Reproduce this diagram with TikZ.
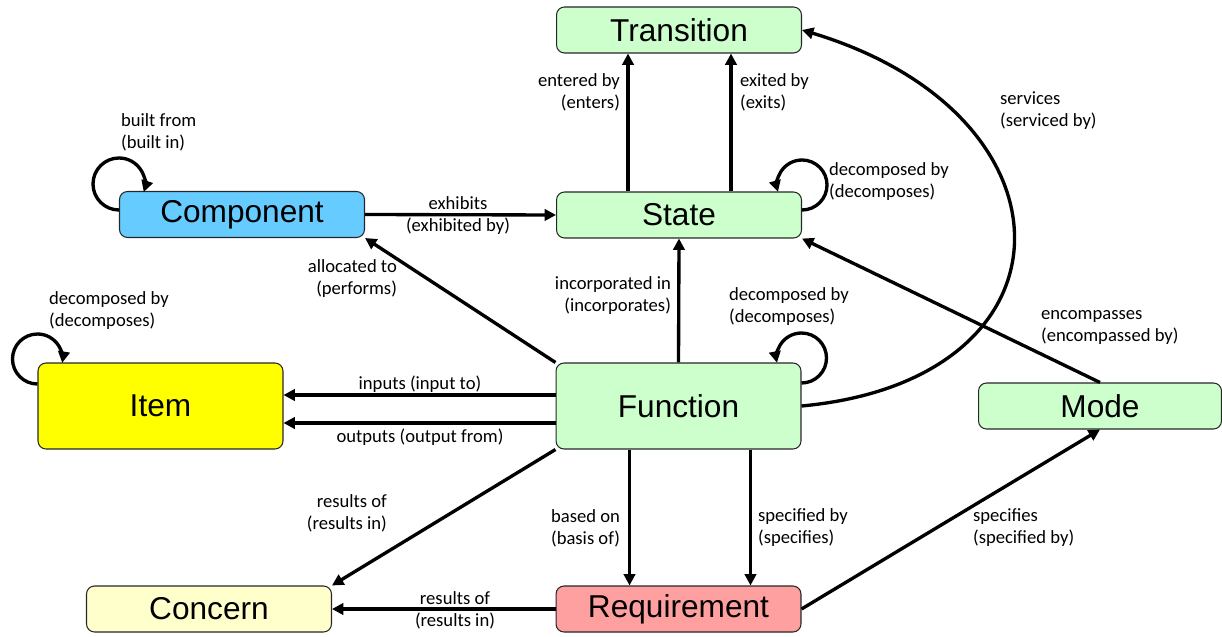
\documentclass[tikz,border=0pt]{standalone}
\usepackage{fontspec}
\setmainfont{Liberation Sans}
\newfontfamily\lblfont{Carlito}
\usetikzlibrary{arrows.meta}
\definecolor{boxgreen}{HTML}{CCFFCC}
\definecolor{boxblue}{HTML}{66CCFF}
\definecolor{boxyellow}{HTML}{FFFF00}
\definecolor{boxcream}{HTML}{FFFFCC}
\definecolor{boxred}{HTML}{FFA0A0}
\tikzset{
  box/.style={draw=black!85, line width=0.6pt, rounded corners=0.16cm, minimum width=4.9cm, minimum height=0.92cm, inner sep=0, font=\fontsize{18}{20}\selectfont},
  edge/.style={line width=1.9pt, -{Triangle[length=6.5pt,width=6.5pt]}},
  lbl/.style={font=\lblfont\fontsize{10.6}{12.5}\selectfont, inner sep=1pt}
}
\begin{document}
\begin{tikzpicture}[x=0.02cm,y=0.02cm]
  \useasboundingbox (0,0) rectangle (1222,636);

  \node [box, fill=boxgreen] (tr) at (679,606) {Transition};
  \node [box, fill=boxgreen] (st) at (679,421) {State};
  \node [box, fill=boxblue] (cmp) at (242,421.5) {Component};
  \node [box, fill=boxyellow, minimum height=1.72cm] (itm) at (160.5,230) {Item};
  \node [box, fill=boxgreen, minimum height=1.72cm] (fn) at (678.5,230) {Function};
  \node [box, fill=boxgreen, minimum width=4.86cm] (md) at (1100,230) {Mode};
  \node [box, fill=boxcream] (cnc) at (209,27) {Concern};
  \node [box, fill=boxred] (req) at (678.5,27) {Requirement};

  \draw [edge] ([xshift=-1.02cm]st.north) -- ([xshift=-1.02cm]tr.south);
  \draw [edge] ([xshift=1.04cm]st.north) -- ([xshift=1.04cm]tr.south);
  \draw [edge] (cmp.east) -- (st.west);
  \draw [edge] (fn.north west) -- (cmp.south east);
  \draw [edge] (fn.north) -- (st.south);
  \draw [edge] ([yshift=0.22cm]fn.west) -- ([yshift=0.22cm]itm.east);
  \draw [edge] ([yshift=-0.34cm]fn.west) -- ([yshift=-0.34cm]itm.east);
  \draw [edge] (fn.east) .. controls +(282,26) and +(282,-85) .. (tr.east);
  \draw [edge] (md.north) -- (st.south east);
  \draw [edge] (fn.south west) -- (cnc.north east);
  \draw [edge] ([xshift=-0.98cm]fn.south) -- ([xshift=-0.98cm]req.north);
  \draw [edge] ([xshift=1.44cm]fn.south) -- ([xshift=1.44cm]req.north);
  \draw [edge] (req.east) -- (md.south);
  \draw [edge] (req.west) -- (cnc.east);

  \draw [edge] ([yshift=0.09cm]cmp.west) arc[start angle=270, end angle=-18, radius=26];
  \draw [edge] ([yshift=0.44cm]itm.west) arc[start angle=270, end angle=-9, radius=25];
  \draw [edge] ([yshift=0.1cm]st.east) arc[start angle=-90, end angle=196, radius=25];
  \draw [edge] ([yshift=0.46cm]fn.east) arc[start angle=-90, end angle=191, radius=25];

  \node [lbl, anchor=east, align=right] (l-enter) at (622,544) {entered by\\(enters)};
  \node [lbl, anchor=west, align=left] (l-exit) at (738,544) {exited by\\(exits)};
  \node [lbl, anchor=west, align=left] (l-built) at (119,504) {built from\\(built in)};
  \node [lbl, anchor=west, align=left] (l-stdec) at (827,454) {decomposed by\\(decomposes)};
  \node [lbl, align=center] (l-exhib) at (458,420) {exhibits\\(exhibited by)};
  \node [lbl, anchor=west, align=left] (l-serv) at (998,525) {services\\(serviced by)};
  \node [lbl, anchor=east, align=right] (l-alloc) at (399,357) {allocated to\\(performs)};
  \node [lbl, anchor=east, align=right] (l-incorp) at (673,340) {incorporated in\\(incorporates)};
  \node [lbl, anchor=west, align=left] (l-fndec) at (727,329) {decomposed by\\(decomposes)};
  \node [lbl, anchor=west, align=left] (l-encomp) at (1039,309) {encompasses\\(encompassed by)};
  \node [lbl, anchor=west, align=left] (l-itmdec) at (47,325) {decomposed by\\(decomposes)};
  \node [lbl] (l-in) at (420,252) {inputs (input to)};
  \node [lbl] (l-out) at (420,199) {outputs (output from)};
  \node [lbl, anchor=east, align=right] (l-res1) at (389,123) {results of\\(results in)};
  \node [lbl, anchor=west, align=left] (l-based) at (549,108) {based on\\(basis of)};
  \node [lbl, anchor=west, align=left] (l-specby) at (756,108) {specified by\\(specifies)};
  \node [lbl, anchor=west, align=left] (l-spec) at (971,108) {specifies\\(specified by)};
  \node [lbl, align=center] (l-res2) at (455,26) {results of\\(results in)};
\end{tikzpicture}
\end{document}
